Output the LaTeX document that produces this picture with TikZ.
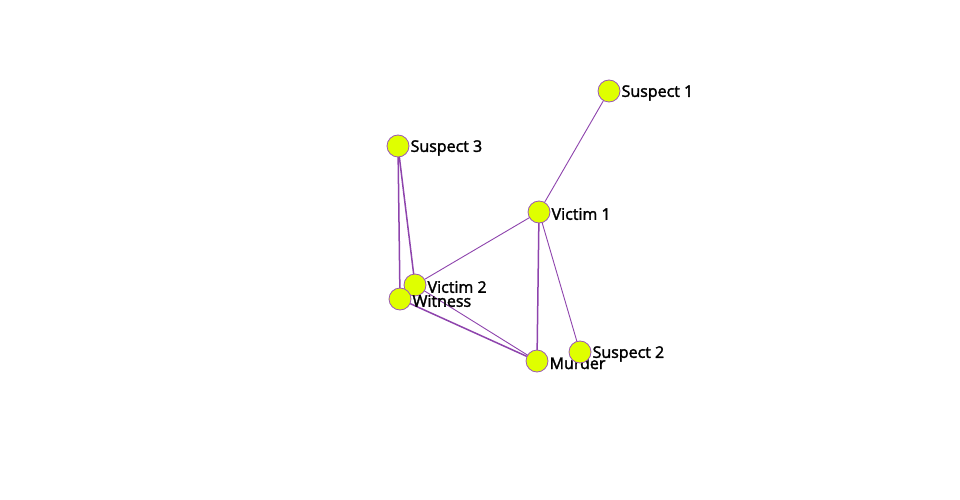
\documentclass[tikz,border=0pt]{standalone}
\usepackage{fontspec}
\setmainfont{Open Sans}[UprightFeatures={FakeBold=2}]
\definecolor{nodefill}{HTML}{DFFF00}
\definecolor{nodeedge}{HTML}{9B59B6}
\definecolor{linkcol}{HTML}{8E44AD}
\tikzset{
  vert/.style={circle, draw=nodeedge, fill=nodefill, line width=0.8pt, minimum size=22pt, inner sep=0pt},
  lbl/.style={anchor=west, inner sep=0pt, font=\fontsize{16pt}{18pt}\selectfont, text=black},
  thinlink/.style={draw=linkcol, line width=0.9pt},
  thicklink/.style={draw=linkcol, line width=1.5pt}
}
\begin{document}
\begin{tikzpicture}[x=1pt, y=-1pt]
\useasboundingbox (0,0) rectangle (960,500);
\fill[white] (0,0) rectangle (960,500);
% coordinates
\coordinate (s1) at (609,91);
\coordinate (s3) at (398,146);
\coordinate (v1) at (539,212);
\coordinate (v2) at (415,285);
\coordinate (w) at (400,299);
\coordinate (m) at (537,361);
\coordinate (s2) at (580,352);
% edges
\draw[thinlink] (s1) -- (v1);
\draw[thicklink] (s3) -- (v2);
\draw[thicklink] (s3) -- (w);
\draw[thinlink] (v1) -- (v2);
\draw[thicklink] (v1) -- (m);
\draw[thinlink] (v1) -- (s2);
\draw[thicklink] (w) -- (m);
\draw[thinlink] (v2) -- (m);
\draw[thinlink] (w) -- (v2);
% nodes
\node[vert] (ns1) at (s1) {};
\node[lbl] (ls1) at ([xshift=1pt,yshift=-2pt]ns1.east) {Suspect 1};
\node[vert] (ns3) at (s3) {};
\node[lbl] (ls3) at ([xshift=1pt,yshift=-2pt]ns3.east) {Suspect 3};
\node[vert] (nv1) at (v1) {};
\node[lbl] (lv1) at ([xshift=1pt,yshift=-2pt]nv1.east) {Victim 1};
\node[vert] (nv2) at (v2) {};
\node[lbl] (lv2) at ([xshift=1pt,yshift=-2pt]nv2.east) {Victim 2};
\node[vert] (nw) at (w) {};
\node[lbl] (lw) at ([xshift=1pt,yshift=-2pt]nw.east) {Witness};
\node[vert] (nm) at (m) {};
\node[lbl] (lm) at ([xshift=1pt,yshift=-2pt]nm.east) {Murder};
\node[vert] (ns2) at (s2) {};
\node[lbl] (ls2) at ([xshift=1pt,yshift=-2pt]ns2.east) {Suspect 2};
\end{tikzpicture}
\end{document}
